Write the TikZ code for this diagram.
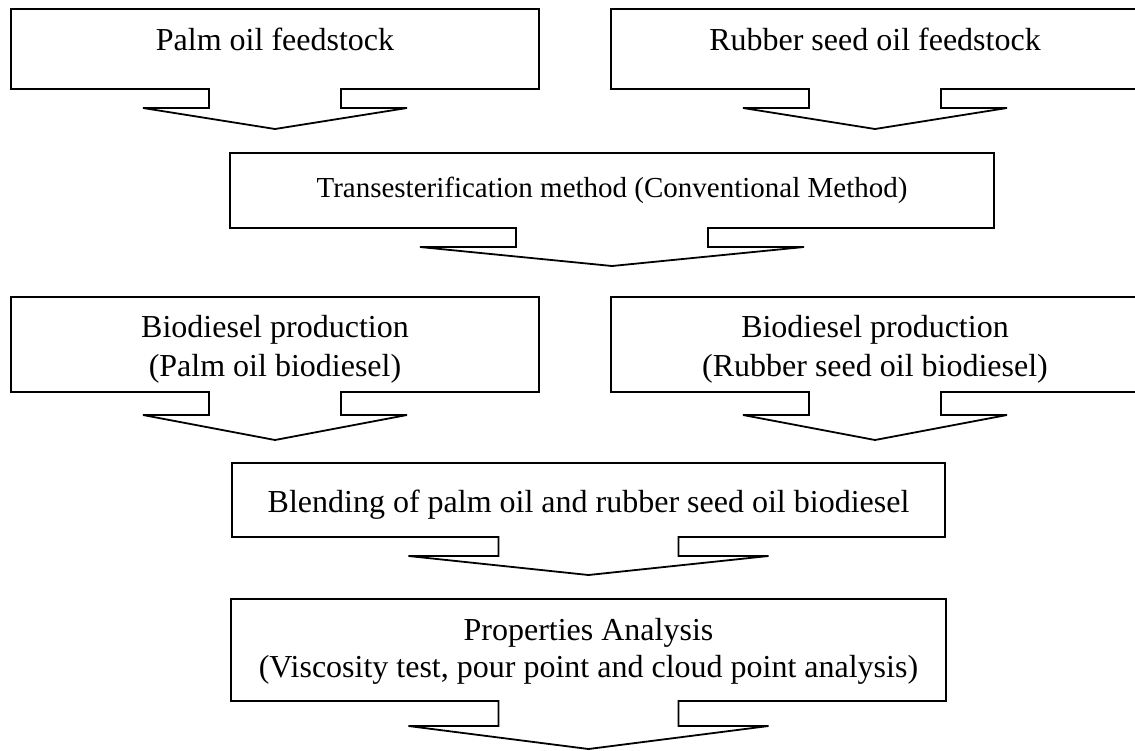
\documentclass[tikz,border=0pt]{standalone}
\usepackage{fontspec}
\setmainfont{Liberation Serif}
\newcommand\calloutbox[8]{%
  \draw[boxline] (#2,#3) -- (#4,#3) -- (#4,#5)
    -- ({(#2+#4)/2+#6},#5) -- ({(#2+#4)/2+#6},#7) -- ({(#2+#4)/2+2*#6},#7)
    -- ({(#2+#4)/2},#8)
    -- ({(#2+#4)/2-2*#6},#7) -- ({(#2+#4)/2-#6},#7) -- ({(#2+#4)/2-#6},#5)
    -- (#2,#5) -- cycle;
  \coordinate (#1) at ({(#2+#4)/2},{(#3+#5)/2});
}
\begin{document}
\begin{tikzpicture}[x=1pt,y=-1pt,
  boxline/.style={line width=1.8pt, black},
  lbl/.style={font=\fontsize{32}{39}\selectfont, inner sep=0pt, align=center},
  lbltight/.style={font=\fontsize{32}{37}\selectfont, inner sep=0pt, align=center},
  lblsmall/.style={font=\fontsize{29}{35}\selectfont, inner sep=0pt, align=center}]
\useasboundingbox (0,0) rectangle (1135,750);
\clip (0,0) rectangle (1135,750);
\calloutbox{b1}{11}{9}{539}{89}{66}{108}{129}
\calloutbox{b2}{611}{9}{1139}{89}{66}{108}{129}
\calloutbox{b3}{230}{153}{994}{228}{96}{247}{266}
\calloutbox{b4}{11}{297}{539}{392}{66}{415}{440}
\calloutbox{b5}{611}{297}{1139}{392}{66}{415}{440}
\calloutbox{b6}{232}{463}{945}{537}{90}{556}{575}
\calloutbox{b7}{231}{599}{946}{701}{90}{726}{749}
\node[lbl, anchor=base] (t1) at (275,50) {Palm oil feedstock};
\node[lbl, anchor=base] (t2) at (875,50) {Rubber seed oil feedstock};
\node[lblsmall, anchor=base] (t3) at (612,197) {Transesterification method (Conventional Method)};
\node[lbl, anchor=base] (t4) at (275,376) {Biodiesel production\\(Palm oil biodiesel)};
\node[lbl, anchor=base] (t5) at (875,376) {Biodiesel production\\(Rubber seed oil biodiesel)};
\node[lbl, anchor=base] (t6) at (588.5,512) {Blending of palm oil and rubber seed oil biodiesel};
\node[lbltight, anchor=base] (t7) at (588.5,677) {Properties Analysis\\(Viscosity test, pour point and cloud point analysis)};
\end{tikzpicture}
\end{document}
